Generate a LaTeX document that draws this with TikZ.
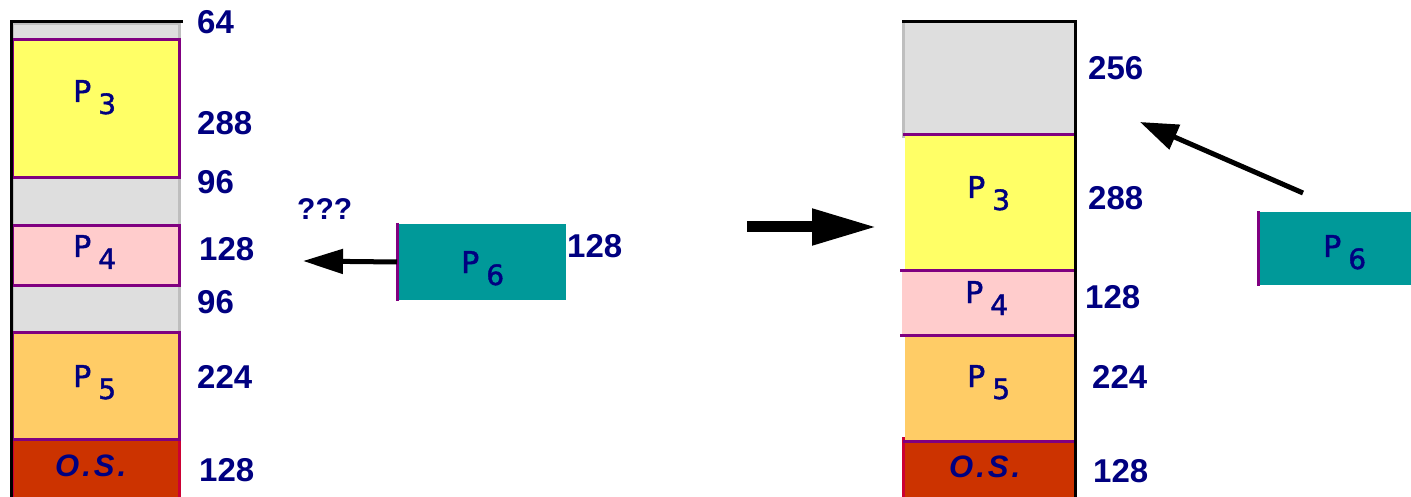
\documentclass[tikz,border=0pt]{standalone}
\usepackage{fontspec}
\setmainfont{Liberation Sans}
\newfontfamily\procfont{DejaVu Sans}[FakeBold=1.5]
\usetikzlibrary{arrows.meta}
\definecolor{navytext}{RGB}{0,0,128}
\definecolor{procedge}{RGB}{128,0,128}
\definecolor{holefill}{RGB}{222,222,222}
\definecolor{holeedge}{RGB}{190,190,190}
\definecolor{pthree}{RGB}{255,255,102}
\definecolor{pfour}{RGB}{255,204,204}
\definecolor{pfive}{RGB}{255,204,102}
\definecolor{osfill}{RGB}{204,51,0}
\definecolor{osedge}{RGB}{204,0,51}
\definecolor{psix}{RGB}{0,153,153}
\newcommand{\Pname}[1]{P\hspace{7pt}\raisebox{-12pt}{\fontsize{28}{32}\selectfont #1}}
\newcommand{\OSname}{O\hspace{3pt}.\hspace{3pt}S\hspace{3pt}.}
\tikzset{
  blk/.style={rectangle, inner sep=0pt, anchor=north west, line width=3pt},
  hole/.style={blk, fill=holefill, draw=holeedge},
  proc/.style={blk, draw=procedge},
  bare/.style={blk, draw=none},
  osblk/.style={blk, fill=osfill, draw=osedge},
  size/.style={anchor=base west, inner sep=0pt, text=navytext, font=\fontsize{33}{40}\selectfont\bfseries},
  plabel/.style={anchor=base west, inner sep=0pt, text=navytext, font=\procfont\fontsize{30}{36}\selectfont},
  oslabel/.style={anchor=base west, inner sep=0pt, text=navytext, font=\fontsize{31}{36}\selectfont\bfseries\itshape},
  edge/.style={black, line width=3pt},
  rim/.style={line width=3pt, draw=#1},
  fat/.style={black, line width=#1},
}
\begin{document}
\begin{tikzpicture}[x=1pt, y=1pt]
\useasboundingbox (0,0) rectangle (1411,-497);

% ---- memory before compaction ----
\node[hole, minimum width=167pt, minimum height=16pt] (hL1) at (11,-22) {};
\node[hole, minimum width=167pt, minimum height=48pt] (hL2) at (11,-176) {};
\node[hole, minimum width=167pt, minimum height=47pt] (hL3) at (11,-284) {};
\node[osblk, minimum width=167pt, minimum height=62pt] (OSL) at (11,-438) {};
\node[proc, fill=pthree, minimum width=167pt, minimum height=138pt] (P3L) at (11,-38) {};
\node[proc, fill=pfour, minimum width=167pt, minimum height=60pt] (P4L) at (11,-224) {};
\node[proc, fill=pfive, minimum width=167pt, minimum height=107pt] (P5L) at (11,-331) {};
\draw[edge] ([yshift=-5pt]OSL.south west) |- ([xshift=1.5pt]hL1.north east);

\node[plabel] (tP3L) at (73,-102) {\Pname{3}};
\node[plabel] (tP4L) at (73,-257) {\Pname{4}};
\node[plabel] (tP5L) at (73,-387) {\Pname{5}};
\node[oslabel] (tOSL) at (55,-476) {\OSname};

\node[size] (s64) at (197,-34) {64};
\node[size] (s288L) at (197,-135) {288};
\node[size] (s96a) at (197,-194) {96};
\node[size] (s128a) at (199,-260) {128};
\node[size] (s96b) at (197,-313) {96};
\node[size] (s224L) at (197,-388) {224};
\node[size] (s128b) at (199,-481) {128};

% ---- incoming process ----
\node[blk, fill=psix, minimum width=167pt, minimum height=75pt] (P6L) at (397,-223) {};
\draw[rim=procedge] (P6L.north west) -- (P6L.south west);
\node[plabel] (tP6L) at (461,-273) {\Pname{6}};
\node[size] (s128p6) at (567,-258) {128};
\node[size, font=\fontsize{30}{36}\selectfont\bfseries] (qq) at (297,-220) {???};
\coordinate (qtip) at (303,-261);
\draw[fat=5pt, -{Triangle[length=40pt,width=24pt]}] (P6L.west) -- (qtip);

% ---- compaction step ----
\coordinate (mA) at (747,-227);
\coordinate (mB) at (877,-227);
\draw[fat=11pt, -{Triangle[length=65pt,width=34pt]}] (mA) -- (mB);

% ---- memory after compaction ----
\node[blk, fill=holefill, minimum width=169pt, minimum height=113pt] (hR1) at (903,-22) {};
\draw[rim=holeedge] (hR1.north west) -- (hR1.south west);
\node[bare, fill=osfill, minimum width=169pt, minimum height=62pt] (OSR) at (903,-438) {};
\draw[rim=osedge] (OSR.east |- OSR.north) -- (OSR.north west) -- (OSR.south west);
\node[bare, fill=pthree, minimum width=169pt, minimum height=135pt] (P3R) at (903,-135) {};
\node[bare, fill=pfive, minimum width=169pt, minimum height=106pt] (P5R) at (903,-332) {};
\node[bare, fill=pfour, minimum width=172pt, minimum height=62pt] (P4R) at (900,-270) {};
\draw[rim=procedge] (P3R.north west) -- (P3R.north east);
\draw[rim=procedge] (P4R.north west) -- (P4R.north east);
\draw[rim=procedge] (P4R.south west) -- (P4R.south east);
\draw[rim=procedge] (P5R.south west) -- (P5R.south east);
\draw[edge] ([yshift=-5pt]OSR.south east) |- ([xshift=-1.5pt]hR1.north west);

\node[plabel] (tP3R) at (967,-198) {\Pname{3}};
\node[plabel] (tP4R) at (965,-303) {\Pname{4}};
\node[plabel] (tP5R) at (967,-387) {\Pname{5}};
\node[oslabel] (tOSR) at (949,-477) {\OSname};

\node[size] (s256) at (1088,-80) {256};
\node[size] (s288R) at (1088,-210) {288};
\node[size] (s128c) at (1085,-308) {128};
\node[size] (s224R) at (1092,-388) {224};
\node[size] (s128d) at (1093,-482) {128};

\node[blk, fill=psix, minimum width=160pt, minimum height=72pt] (P6R) at (1258,-211) {};
\draw[rim=procedge] (P6R.north west) -- (P6R.south west);
\node[plabel] (tP6R) at (1323,-257) {\Pname{6}};
\coordinate (rA) at (1303,-193);
\coordinate (rB) at (1140,-122);
\draw[fat=5pt, -{Triangle[length=38pt,width=26pt]}] (rA) -- (rB);
\end{tikzpicture}
\end{document}
